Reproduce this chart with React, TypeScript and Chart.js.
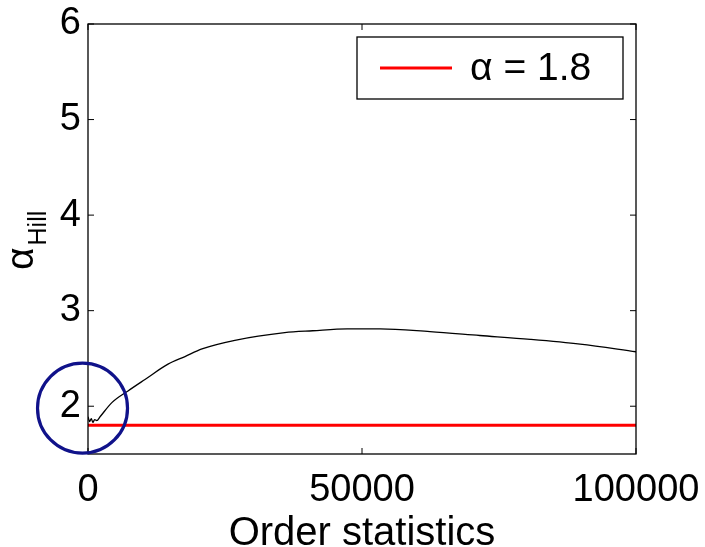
import { useEffect, useRef } from "react";
import { Chart, registerables } from "chart.js";

Chart.register(...registerables);

// Hill estimator of the tail index versus number of order statistics used
const orderStats = [0, 300, 600, 900, 1200, 1600, 2200, 4400, 7300, 10400, 14600, 17700, 20800, 26800, 35900, 41000, 47300, 53300, 62400, 71500, 80700, 89800, 100000];
const hillEstimate = [1.89, 1.84, 1.87, 1.83, 1.86, 1.85, 1.89, 2.04, 2.16, 2.28, 2.44, 2.52, 2.6, 2.69, 2.77, 2.79, 2.81, 2.81, 2.78, 2.74, 2.7, 2.65, 2.57];

// True tail index reference line
const trueAlphaX = [0, 100000];
const trueAlphaY = [1.8, 1.8];
const trueAlphaLabel = "α = 1.8";

const xTicks = [0, 50000, 100000];
const yTicks = [2, 3, 4, 5, 6];

const FONT = "'Liberation Sans', Arial, Helvetica, sans-serif";

const framePlugin = {
  id: "matlabFrame",
  afterDraw(chart: any) {
    const { ctx, chartArea: a, scales } = chart;
    const x = scales.x;
    const y = scales.y;
    ctx.save();

    // axes box
    ctx.strokeStyle = "#000";
    ctx.lineWidth = 1.3;
    ctx.strokeRect(a.left, a.top, a.right - a.left, a.bottom - a.top);

    // inward ticks on every side
    const seg = (x1: number, y1: number, x2: number, y2: number) => {
      ctx.beginPath();
      ctx.moveTo(x1, y1);
      ctx.lineTo(x2, y2);
      ctx.stroke();
    };
    ctx.lineWidth = 1;
    for (const v of xTicks) {
      const px = x.getPixelForValue(v);
      seg(px, a.bottom, px, a.bottom - 6);
      seg(px, a.top, px, a.top + 6);
    }
    for (const v of yTicks) {
      const py = y.getPixelForValue(v);
      seg(a.left, py, a.left + 6, py);
      seg(a.right, py, a.right - 6, py);
    }

    // legend
    const ds = chart.data.datasets[1];
    const bw = 266;
    const bh = 62;
    const bx = a.right - 13 - bw;
    const by = a.top + 13;
    ctx.fillStyle = "#fff";
    ctx.fillRect(bx, by, bw, bh);
    ctx.lineWidth = 1.3;
    ctx.strokeStyle = "#000";
    ctx.strokeRect(bx, by, bw, bh);
    ctx.strokeStyle = ds.borderColor;
    ctx.lineWidth = 3;
    seg(bx + 23, by + bh / 2, bx + 95, by + bh / 2);
    ctx.fillStyle = "#000";
    ctx.font = `39px ${FONT}`;
    ctx.textBaseline = "middle";
    ctx.textAlign = "left";
    ctx.fillText(ds.label, bx + 113, by + bh / 2 + 1);

    // y axis label: alpha with subscript "Hill"
    ctx.save();
    ctx.translate(33, 270);
    ctx.rotate(-Math.PI / 2);
    ctx.textBaseline = "alphabetic";
    ctx.font = `39px ${FONT}`;
    ctx.fillText("α", 0, 0);
    const w = ctx.measureText("α").width;
    ctx.font = `25px ${FONT}`;
    ctx.fillText("Hill", w + 2, 13);
    ctx.restore();

    // highlight circle around the low-order region
    ctx.strokeStyle = "#10128a";
    ctx.lineWidth = 3.2;
    ctx.beginPath();
    ctx.arc(x.getPixelForValue(-1000), y.getPixelForValue(1.98), 45, 0, Math.PI * 2);
    ctx.stroke();

    ctx.restore();
  },
};

export default function App() {
  const ref = useRef<HTMLCanvasElement | null>(null);

  useEffect(() => {
    if (!ref.current) return;
    const chart = new Chart(ref.current, {
      type: "line",
      data: {
        datasets: [
          {
            label: "Hill",
            data: orderStats.map((v, i) => ({ x: v, y: hillEstimate[i] })),
            borderColor: "#000",
            borderWidth: 1.3,
            pointRadius: 0,
            cubicInterpolationMode: "monotone",
          },
          {
            label: trueAlphaLabel,
            data: trueAlphaX.map((v, i) => ({ x: v, y: trueAlphaY[i] })),
            borderColor: "#ff0000",
            borderWidth: 3,
            pointRadius: 0,
          },
        ],
      },
      options: {
        animation: false,
        responsive: false,
        layout: { padding: { top: 24, right: 69, left: 0, bottom: 0 } },
        plugins: { legend: { display: false }, tooltip: { enabled: false } },
        scales: {
          x: {
            type: "linear",
            min: 0,
            max: 100000,
            grid: { display: false, drawTicks: false },
            border: { display: false },
            afterBuildTicks: (s: any) => {
              s.ticks = xTicks.map((v) => ({ value: v }));
            },
            afterFit: (s: any) => {
              s.height = 93;
              s.paddingLeft = 0;
              s.paddingRight = 0;
            },
            ticks: {
              color: "#000",
              font: { family: FONT, size: 38 },
              padding: 14,
              maxRotation: 0,
              callback: (v: any) => String(v),
            },
            title: {
              display: true,
              text: "Order statistics",
              color: "#000",
              font: { family: FONT, size: 40 },
              padding: { top: 0, bottom: -11 },
            },
          },
          y: {
            type: "linear",
            min: 1.5,
            max: 6,
            grid: { display: false, drawTicks: false },
            border: { display: false },
            afterBuildTicks: (s: any) => {
              s.ticks = yTicks.map((v) => ({ value: v }));
            },
            afterFit: (s: any) => {
              s.width = 88;
              s.paddingTop = 0;
              s.paddingBottom = 0;
            },
            ticks: {
              color: "#000",
              font: { family: FONT, size: 38 },
              padding: 7,
              callback: (v: any) => String(v),
            },
          },
        },
      },
      plugins: [framePlugin],
    } as any);
    return () => chart.destroy();
  }, []);

  return (
    <div style={{ position: "absolute", left: 0, top: 0, width: 705, height: 547, background: "#fff" }}>
      <canvas ref={ref} width={705} height={547} style={{ display: "block" }} />
    </div>
  );
}
